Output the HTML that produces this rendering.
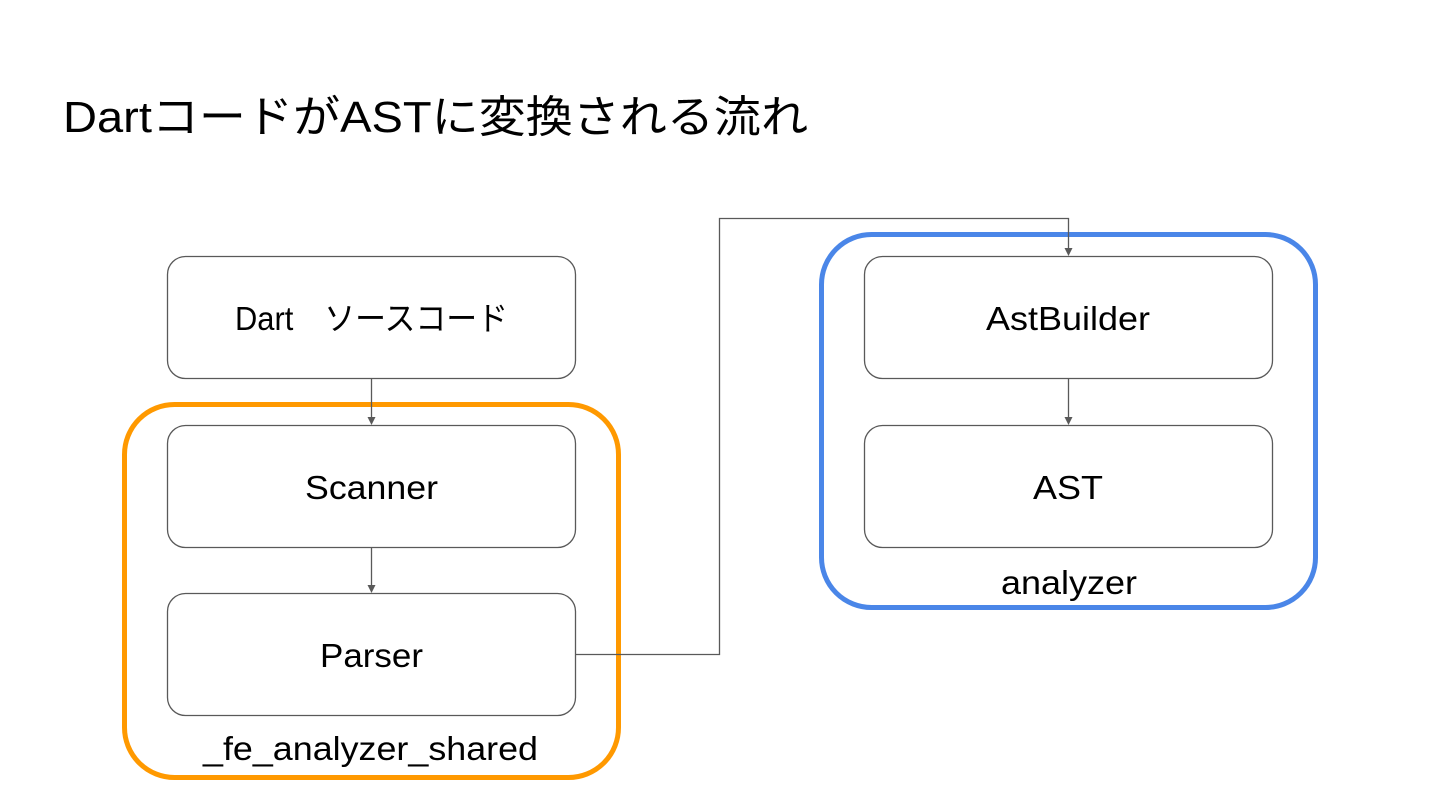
<!DOCTYPE html>
<html><head><meta charset="utf-8"><style>
html,body{margin:0;padding:0;background:#fff;width:1440px;height:810px;overflow:hidden}
text{font-family:"Liberation Sans","Noto Sans CJK JP",sans-serif;fill:#000}
</style></head><body>
<svg width="1440" height="810" viewBox="0 0 1440 810" xmlns="http://www.w3.org/2000/svg">
<text x="63" y="132" font-size="44" textLength="745" lengthAdjust="spacingAndGlyphs">DartコードがASTに変換される流れ</text>
<rect x="124.5" y="404.5" width="494" height="373" rx="50" fill="none" stroke="#ff9900" stroke-width="5"/>
<rect x="821.5" y="234.5" width="494" height="373" rx="50" fill="none" stroke="#4a86e8" stroke-width="5"/>
<g fill="#fff" stroke="#595959" stroke-width="1.3">
<rect x="167.5" y="256.5" width="408" height="122" rx="18"/>
<rect x="167.5" y="425.5" width="408" height="122" rx="18"/>
<rect x="167.5" y="593.5" width="408" height="122" rx="18"/>
<rect x="864.5" y="256.5" width="408" height="122" rx="18"/>
<rect x="864.5" y="425.5" width="408" height="122" rx="18"/>
</g>
<g fill="none" stroke="#595959" stroke-width="1.3">
<path d="M371.5 379 V418"/>
<path d="M371.5 548 V586"/>
<path d="M1068.5 379 V418"/>
<path d="M576 654.5 H719.5 V218.5 H1068.5 V249"/>
</g>
<g fill="#595959">
<path d="M367.5 417 L375.5 417 L371.5 425 z"/>
<path d="M367.5 585 L375.5 585 L371.5 593 z"/>
<path d="M1064.5 417 L1072.5 417 L1068.5 425 z"/>
<path d="M1064.5 248 L1072.5 248 L1068.5 256 z"/>
</g>
<g font-size="33" lengthAdjust="spacingAndGlyphs">
<text x="235" y="330" textLength="273" lengthAdjust="spacingAndGlyphs">Dart　ソースコード</text>
<text x="305" y="499" textLength="133" lengthAdjust="spacingAndGlyphs">Scanner</text>
<text x="320" y="667" textLength="103" lengthAdjust="spacingAndGlyphs">Parser</text>
<text x="986" y="330" textLength="164" lengthAdjust="spacingAndGlyphs">AstBuilder</text>
<text x="1033" y="499" textLength="70" lengthAdjust="spacingAndGlyphs">AST</text>
<text x="203" y="760" textLength="335" lengthAdjust="spacingAndGlyphs">_fe_analyzer_shared</text>
<text x="1001" y="594" textLength="136" lengthAdjust="spacingAndGlyphs">analyzer</text>
</g>
</svg>
</body></html>
